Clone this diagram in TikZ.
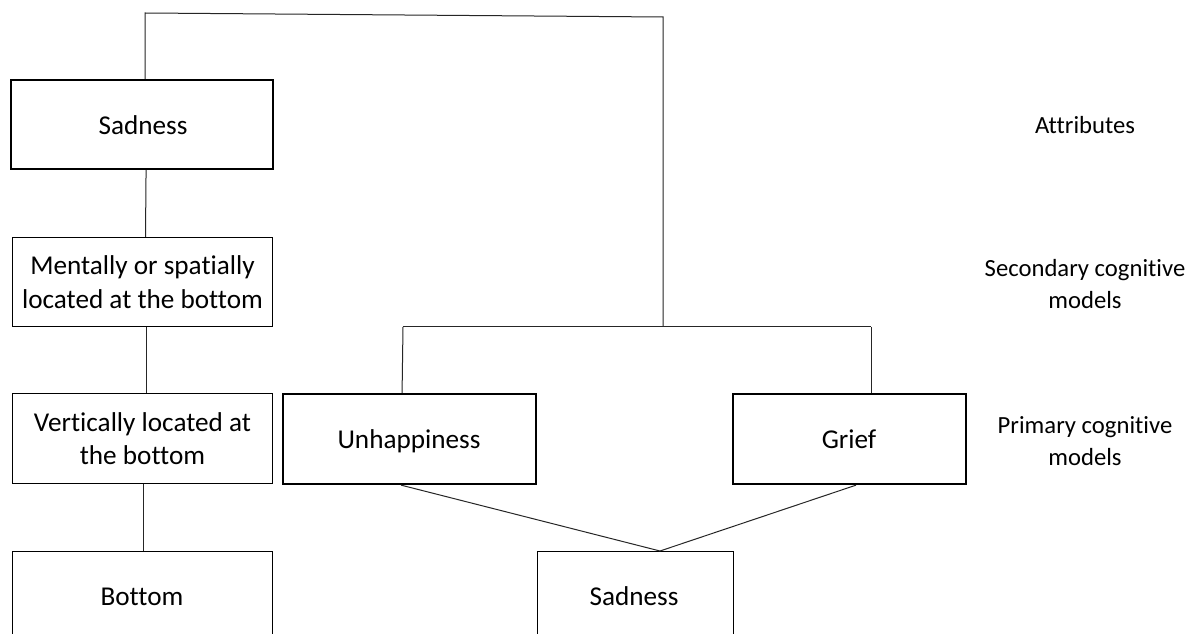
\documentclass[tikz,border=0pt]{standalone}
\usepackage{fontspec}
\setmainfont{Carlito}[Ligatures=NoCommon]
\usetikzlibrary{calc}
\begin{document}
\begin{tikzpicture}[x=0.75pt,y=-0.75pt,
  txt/.style={font=\fontsize{20.4pt}{25.2pt}\selectfont},
  rtxt/.style={font=\fontsize{18.5pt}{24.5pt}\selectfont},
  box/.style={draw=black,line width=0.75pt,rectangle,anchor=north west,inner sep=0pt,
    align=center,txt},
  thickbox/.style={box,line width=1.6pt},
  lab/.style={align=center,inner sep=0pt,rtxt},
  lab1/.style={inner sep=0pt,txt,text height=13.1pt,text depth=0pt},
  rlab1/.style={inner sep=0pt,rtxt,text height=11.9pt,text depth=0pt},
  conn/.style={draw=black!85,line width=0.75pt}]
\useasboundingbox (0,0) rectangle (1190,634);
\clip (0,0) rectangle (1190,634);
\fill[white] (0,0) rectangle (1190,634);
% left column
\node[thickbox,minimum width=262*0.75pt,minimum height=89*0.75pt] (sad1) at (10,79) {};
\node[lab1] at (143,126) {Sadness};
\node[box,minimum width=260*0.75pt,minimum height=89*0.75pt] (ment) at (12,237) {Mentally or spatially\\located at the bottom};
\node[box,minimum width=260*0.75pt,minimum height=90*0.75pt] (vert) at (12,393) {Vertically located at\\the bottom};
\node[box,minimum width=260*0.75pt,minimum height=100*0.75pt] (bot) at (12,551) {};
\node[lab1] at (142,597) {Bottom};
% middle
\node[thickbox,minimum width=253*0.75pt,minimum height=90*0.75pt] (unh) at (282,393) {};
\node[lab1] at (409,440) {Unhappiness};
\node[thickbox,minimum width=233*0.75pt,minimum height=90*0.75pt] (grief) at (732,393) {};
\node[lab1] at (849,440) {Grief};
\node[box,minimum width=196*0.75pt,minimum height=100*0.75pt] (sad2) at (537,551) {};
\node[lab1] at (634,597) {Sadness};
% right labels
\node[rlab1] (la) at (1085,126) {Attributes};
\node[lab] (ls) at (1085,284) {Secondary cognitive\\models};
\node[lab] (lp) at (1085,441) {Primary cognitive\\models};
% connectors
\coordinate (t1) at (145,13);
\coordinate (t2) at (663,17);
\coordinate (j) at (663,327);
\coordinate (hl) at (403,327);
\coordinate (hr) at (871,327);
\draw[conn] (sad1.north -| t1) -- (t1) -- (t2) -- (j);
\draw[conn] (hl) -- (hr);
\draw[conn] (hl) -- ($(unh.north)+(-7.5,0)$);
\draw[conn] (hr) -- (grief.north -| hr);
\draw[conn] ($(sad1.south)+(4,0)$) -- ($(ment.north)+(3,0)$);
\draw[conn] ($(ment.south)+(4,0)$) -- ($(vert.north)+(4,0)$);
\draw[conn] ($(vert.south)+(1,0)$) -- ($(bot.north)+(1,0)$);
\coordinate (m) at (660,551);
\draw[conn] ($(unh.south)+(-8.5,0)$) -- (m) -- ($(grief.south)+(6.5,0)$);
\end{tikzpicture}
\end{document}
